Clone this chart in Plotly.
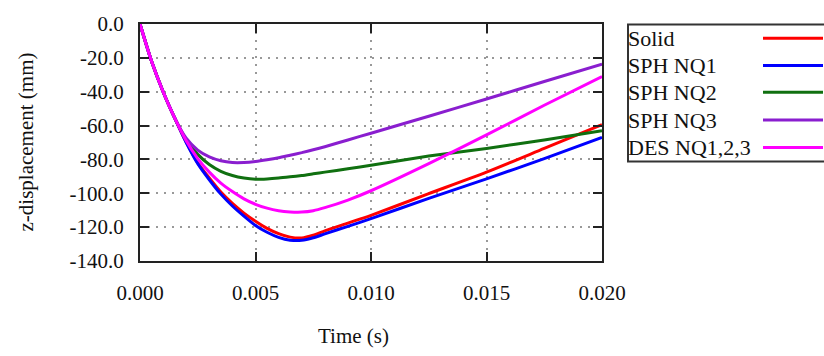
import plotly.graph_objects as go

# ---- data ----
time_s = [0, 0.0005, 0.001, 0.0015, 0.002, 0.0025, 0.003, 0.0035, 0.004, 0.0045,
          0.005, 0.0055, 0.006, 0.0065, 0.007, 0.0075, 0.008, 0.009, 0.010,
          0.0125, 0.015, 0.0175, 0.020]
solid = [0, -22, -40, -55.5, -69.8, -82, -91, -99.3, -106, -111.7,
         -116.5, -120.7, -123.8, -125.9, -126.4, -124.8, -122.2, -117.6, -113,
         -100.2, -87.5, -73.5, -59.5]
sph_nq1 = [0, -22, -40, -55.5, -70, -82.5, -92, -100.5, -107.5, -113.5,
           -119, -123, -126, -127.7, -127.8, -126.3, -124, -119.5, -115,
           -103, -91.5, -79.5, -67]
sph_nq2 = [0, -22, -40, -55.5, -68.5, -77, -83, -87, -89.5, -91,
           -91.7, -91.5, -91, -90.3, -89.5, -88.5, -87.5, -85.5, -83.5,
           -78, -73.5, -68.5, -63]
sph_nq3 = [0, -22, -40, -55.5, -67.5, -74.5, -78.5, -80.8, -81.8, -81.8,
           -81.2, -80.2, -79, -77.5, -76, -74.3, -72.5, -68.5, -64.5,
           -54.5, -44.3, -34, -23.7]
des_nq = [0, -22, -40, -55.5, -69, -79.5, -87.5, -94, -99, -103.3,
          -106.5, -108.8, -110.3, -111, -111.1, -110.3, -108.5, -104, -98.5,
          -82.5, -65.5, -48, -31]

series_names = ["Solid", "SPH NQ1", "SPH NQ2", "SPH NQ3", "DES NQ1,2,3"]
series_values = [solid, sph_nq1, sph_nq2, sph_nq3, des_nq]
series_colors = ["#ff0000", "#0000ff", "#107010", "#8a1ecf", "#ff00ff"]

x_tick_vals = [0, 0.005, 0.010, 0.015, 0.020]
x_tick_labels = ["0.000", "0.005", "0.010", "0.015", "0.020"]
y_tick_vals = [0, -20, -40, -60, -80, -100, -120, -140]
y_tick_labels = ["0.0", "-20.0", "-40.0", "-60.0", "-80.0", "-100.0", "-120.0", "-140.0"]

# ---- layout geometry (pixels) ----
W, H = 824, 356
L, R, T, B = 140, 602, 18, 261
FONT = "Liberation Serif"


def px_x(p):
    return (p - L) / (R - L)


def px_y(p):
    return (B - p) / (B - T)


fig = go.Figure()
for name, vals, col in zip(series_names, series_values, series_colors):
    fig.add_trace(go.Scatter(x=time_s, y=vals, mode="lines", name=name,
                             line=dict(color=col, width=3, shape="spline", smoothing=0.6),
                             showlegend=False))

axis_common = dict(showline=True, linecolor="#222222", linewidth=2, mirror="ticks",
                   ticks="inside", ticklen=9, tickwidth=2, tickcolor="#222222",
                   showgrid=True, gridcolor="#999999", griddash="2px,6px", gridwidth=1.5,
                   zeroline=False, tickfont=dict(family=FONT, size=21, color="#111111"))

fig.update_xaxes(range=[0, 0.020], tickvals=x_tick_vals, ticktext=x_tick_labels,
                 ticklabelstandoff=12, **axis_common)
fig.update_yaxes(range=[-140, 0], tickvals=y_tick_vals, ticktext=y_tick_labels,
                 ticklabelstandoff=10, **axis_common)

annotations = [
    dict(text="Time (s)", x=px_x(353), y=px_y(338), xref="paper", yref="paper",
         xanchor="center", yanchor="middle", showarrow=False,
         font=dict(family=FONT, size=21, color="#111111")),
    dict(text="z-displacement (mm)", x=px_x(25), y=0.5, xref="paper", yref="paper",
         xanchor="center", yanchor="middle", showarrow=False, textangle=-90,
         font=dict(family=FONT, size=21, color="#111111")),
]
shapes = [
    dict(type="rect", xref="paper", yref="paper", x0=px_x(628), x1=px_x(830),
         y0=px_y(159), y1=px_y(18.5), line=dict(color="#333333", width=2),
         fillcolor="white", layer="above"),
]
row_y = [33, 61, 88.5, 117, 145]
for name, col, ry in zip(series_names, series_colors, row_y):
    annotations.append(dict(text=name, x=px_x(626), y=px_y(ry), xref="paper", yref="paper",
                            xanchor="left", yanchor="middle", showarrow=False,
                            font=dict(family=FONT, size=22, color="#111111")))
    shapes.append(dict(type="line", xref="paper", yref="paper", x0=px_x(763), x1=px_x(823),
                       y0=px_y(ry - 0.5), y1=px_y(ry - 0.5), line=dict(color=col, width=3),
                       layer="above"))

fig.update_layout(width=W, height=H, margin=dict(l=L, r=W - R, t=T, b=H - B),
                  paper_bgcolor="white", plot_bgcolor="white",
                  annotations=annotations, shapes=shapes)

fig.write_html("out.html")
